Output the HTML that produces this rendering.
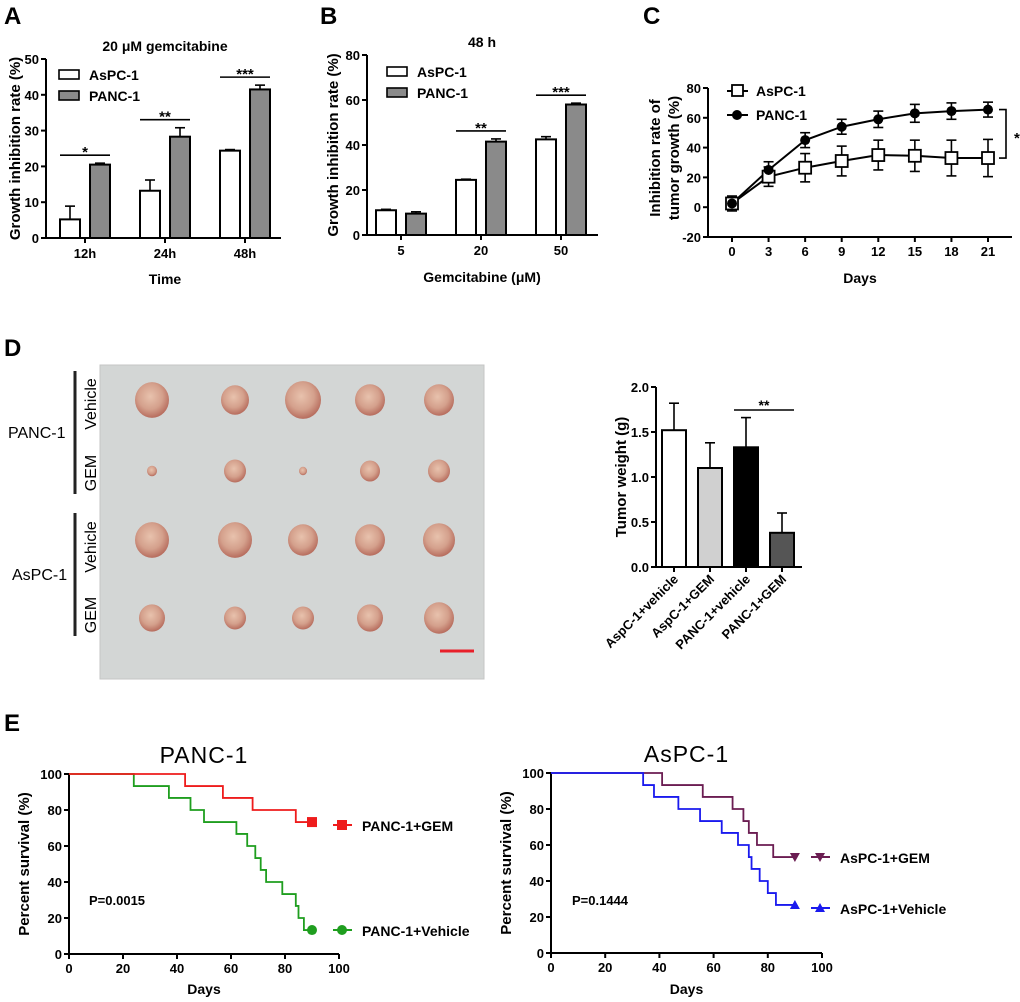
<!DOCTYPE html>
<html><head><meta charset="utf-8"><style>
html,body{margin:0;padding:0;background:#fff;}
svg{display:block;font-family:"Liberation Sans",Arial,sans-serif;}
</style></head><body>
<svg id="fig" width="1020" height="1002" viewBox="0 0 1020 1002">
<defs>
<radialGradient id="tum" cx="45%" cy="40%" r="60%">
<stop offset="0%" stop-color="#e8c2ad"/><stop offset="60%" stop-color="#d4a08c"/><stop offset="100%" stop-color="#b76d5e"/>
</radialGradient>
</defs>
</svg>
<script>
// Panel A data
const aCats = ['12h','24h','48h'];
const aAsPC = [5.2, 13.2, 24.4];
const aAsPCErr = [3.7, 3.0, 0.3];
const aPANC = [20.5, 28.3, 41.5];
const aPANCErr = [0.4, 2.5, 1.2];
const aTicks = [0,10,20,30,40,50];
const aSig = ['*','**','***'];
// Panel B data
const bCats = ['5','20','50'];
const bAsPC = [11, 24.5, 42.5];
const bAsPCErr = [0.4, 0.3, 1.2];
const bPANC = [9.5, 41.5, 58];
const bPANCErr = [0.8, 1.2, 0.6];
const bTicks = [0,20,40,60,80];
const bSig = ['','**','***'];
// Panel C data
const cDays = [0,3,6,9,12,15,18,21];
const cAsPC = [2.5, 20.5, 26.5, 31, 35, 34.5, 33, 33];
const cAsPCErr = [5, 6.5, 9.5, 10, 10, 10.5, 12, 12.5];
const cPANC = [2.5, 25, 45, 54, 59, 63, 64.5, 65.5];
const cPANCErr = [3, 5.5, 5, 5, 5.5, 6, 5.5, 5];
const cTicks = [-20,0,20,40,60,80];
// Panel D data
const dCats = ['AspC-1+vehicle','AspC-1+GEM','PANC-1+vehicle','PANC-1+GEM'];
const dVals = [1.52, 1.10, 1.33, 0.38];
const dErr = [0.30, 0.28, 0.33, 0.22];
const dTicks = [0.0,0.5,1.0,1.5,2.0];
// Panel E data (Kaplan-Meier steps: times and survival after each time)
const ePancGemT = [0,43,57,68,84,90];
const ePancGemS = [100,93.3,86.7,80,73.3,73.3];
const ePancVehT = [0,24,37,45,50,62,66,69,71,73,79,84,85,87,90];
const ePancVehS = [100,93.3,86.7,80,73.3,66.7,60,53.3,46.7,40,33.3,26.7,20,13.3,13.3];
const eAsGemT = [0,41,56,67,71,73,76,82,90];
const eAsGemS = [100,93.3,86.7,80,73.3,66.7,60,53.3,53.3];
const eAsVehT = [0,34,38,47,55,63,69,73,74,77,80,83,90];
const eAsVehS = [100,93.3,86.7,80,73.3,66.7,60,53.3,46.7,40,33.3,26.7,26.7];
const eTicks = [0,20,40,60,80,100];

const NS='http://www.w3.org/2000/svg';
const svg=document.getElementById('fig');
function mk(tag, attrs, parent, txt){
  const e=document.createElementNS(NS,tag);
  for(const k in attrs) e.setAttribute(k,attrs[k]);
  if(txt!==undefined) e.textContent=txt;
  (parent||svg).appendChild(e);
  return e;
}
function lin(d0,d1,r0,r1){return v=>r0+(v-d0)*(r1-r0)/(d1-d0);}
let el;

// panel letters
[['A',4,24],['B',320,24],['C',643,24],['D',4,356],['E',4,731]].forEach(p=>{
  el=mk('text',{x:p[1],y:p[2],'font-size':24,'font-weight':'bold'},svg,p[0]);
  
  
});

function yAxis(x, y0, y1, ticks, ys, fmt, name){
  el=mk('line',{x1:x,y1:ys(ticks[0]),x2:x,y2:ys(ticks[ticks.length-1]),stroke:'#000','stroke-width':2});
  
  
  ticks.forEach(t=>{
    mk('line',{x1:x-5,y1:ys(t),x2:x,y2:ys(t),stroke:'#000','stroke-width':2});
    el=mk('text',{x:x-7,y:ys(t)+5,'font-size':13,'font-weight':'bold','text-anchor':'end'},svg,fmt?fmt(t):t);
    
    
  });
}
function errBar(x,ytop,ybase,w){
  mk('line',{x1:x,y1:ybase,x2:x,y2:ytop,stroke:'#000','stroke-width':1.6});
  mk('line',{x1:x-w,y1:ytop,x2:x+w,y2:ytop,stroke:'#000','stroke-width':1.6});
}

// grouped bar charts A and B
function grouped(cfg){
  const ys=lin(cfg.tk[0],cfg.tk[cfg.tk.length-1],cfg.y0,cfg.y1);
  yAxis(cfg.ax,cfg.y0,cfg.y1,cfg.tk,ys,null,cfg.name);
  el=mk('line',{x1:cfg.ax,y1:cfg.y0,x2:cfg.axEnd,y2:cfg.y0,stroke:'#000','stroke-width':2});
  
  
  cfg.cats.forEach((c,i)=>{
    const cx=cfg.gx[i];
    mk('line',{x1:cx,y1:cfg.y0,x2:cx,y2:cfg.y0+5,stroke:'#000','stroke-width':2});
    el=mk('text',{x:cx,y:cfg.y0+20,'font-size':13,'font-weight':'bold','text-anchor':'middle'},svg,c);
    
    
    const a=cfg.v1[i], b=cfg.v2[i];
    errBar(cx-15,ys(a+cfg.e1[i]),ys(a),5);
    errBar(cx+15,ys(b+cfg.e2[i]),ys(b),5);
    el=mk('rect',{x:cx-25,y:ys(a),width:20,height:cfg.y0-ys(a),fill:'#fff',stroke:'#000','stroke-width':2});
    
    
    el=mk('rect',{x:cx+5,y:ys(b),width:20,height:cfg.y0-ys(b),fill:'#8a8a8a',stroke:'#000','stroke-width':2});
    
    
    if(cfg.sig[i]){
      const top=Math.max(a+cfg.e1[i],b+cfg.e2[i]);
      const ly=ys(top)-8;
      mk('line',{x1:cx-25,y1:ly,x2:cx+25,y2:ly,stroke:'#000','stroke-width':1.6});
      el=mk('text',{x:cx,y:ly+2,'font-size':15,'font-weight':'bold','text-anchor':'middle'},svg,cfg.sig[i]);
      
      
    }
  });
  // legend
  el=mk('rect',{x:cfg.lgx,y:cfg.legY,width:20,height:9,fill:'#fff',stroke:'#000','stroke-width':1.6});
  
  
  el=mk('text',{x:cfg.lgx+30,y:cfg.legY+10,'font-size':14,'font-weight':'bold'},svg,'AsPC-1');
  
  
  el=mk('rect',{x:cfg.lgx,y:cfg.legY+21,width:20,height:9,fill:'#8a8a8a',stroke:'#000','stroke-width':1.6});
  
  
  el=mk('text',{x:cfg.lgx+30,y:cfg.legY+31,'font-size':14,'font-weight':'bold'},svg,'PANC-1');
  
  
  el=mk('text',{x:cfg.tx,y:cfg.ty,'font-size':14,'font-weight':'bold','text-anchor':'middle'},svg,cfg.title);
  
  
  el=mk('text',{x:cfg.tx,y:cfg.xly,'font-size':14,'font-weight':'bold','text-anchor':'middle'},svg,cfg.xl);
  
  
  el=mk('text',{transform:`translate(${cfg.ylx},${(cfg.y0+cfg.y1)/2}) rotate(-90)`,'font-size':15,'font-weight':'bold','text-anchor':'middle'},svg,'Growth inhibition rate (%)');
  
  
}
grouped({name:'panel-a',cats:aCats,v1:aAsPC,e1:aAsPCErr,v2:aPANC,e2:aPANCErr,tk:aTicks,sig:aSig,
  ax:46,axEnd:281,y0:238,y1:59,gx:[85,165,245],lgx:59,legY:70,title:'20 \u03bcM gemcitabine',tx:165,ty:51,xl:'Time',xly:284,ylx:20});
grouped({name:'panel-b',cats:bCats,v1:bAsPC,e1:bAsPCErr,v2:bPANC,e2:bPANCErr,tk:bTicks,sig:bSig,
  ax:367,axEnd:598,y0:235,y1:55,gx:[401,481,561],lgx:387,legY:67,title:'48 h',tx:482,ty:47,xl:'Gemcitabine (\u03bcM)',xly:282,ylx:338});

// Panel C
(function(){
  const ys=lin(-20,80,237,88), xs=lin(0,21,732,988);
  yAxis(708,237,88,cTicks,ys,null,'panel-c');
  el=mk('line',{x1:708,y1:237,x2:1012,y2:237,stroke:'#000','stroke-width':2});
  
  
  cDays.forEach(d=>{
    mk('line',{x1:xs(d),y1:237,x2:xs(d),y2:242,stroke:'#000','stroke-width':2});
    el=mk('text',{x:xs(d),y:256,'font-size':13,'font-weight':'bold','text-anchor':'middle'},svg,d);
    
    
  });
  [[cAsPC,cAsPCErr,'aspc1'],[cPANC,cPANCErr,'panc1']].forEach(s=>{
    s[0].forEach((v,i)=>{
      errBar(xs(cDays[i]),ys(v+s[1][i]),ys(v-s[1][i]),5);
      mk('line',{x1:xs(cDays[i])-5,y1:ys(v-s[1][i]),x2:xs(cDays[i])+5,y2:ys(v-s[1][i]),stroke:'#000','stroke-width':1.6});
    });
    el=mk('polyline',{points:s[0].map((v,i)=>xs(cDays[i])+','+ys(v)).join(' '),fill:'none',stroke:'#000','stroke-width':2});
    
    
  });
  cAsPC.forEach((v,i)=>{
    el=mk('rect',{x:xs(cDays[i])-6,y:ys(v)-6,width:12,height:12,fill:'#fff',stroke:'#000','stroke-width':1.8});
    
    
  });
  cPANC.forEach((v,i)=>{
    el=mk('circle',{cx:xs(cDays[i]),cy:ys(v),r:5,fill:'#000'});
    
    
  });
  const bx=xs(21)+18;
  el=mk('polyline',{points:`${bx-7},${ys(cPANC[7])} ${bx},${ys(cPANC[7])} ${bx},${ys(cAsPC[7])} ${bx-7},${ys(cAsPC[7])}`,fill:'none',stroke:'#000','stroke-width':1.6});
  
  
  el=mk('text',{x:bx+8,y:(ys(cPANC[7])+ys(cAsPC[7]))/2+9,'font-size':15,'font-weight':'bold'},svg,'*');
  
  
  mk('line',{x1:727,y1:91,x2:748,y2:91,stroke:'#000','stroke-width':2});
  el=mk('rect',{x:732,y:85,width:11,height:11,fill:'#fff',stroke:'#000','stroke-width':1.8});
  
  
  el=mk('text',{x:756,y:96,'font-size':14,'font-weight':'bold'},svg,'AsPC-1');
  
  
  mk('line',{x1:727,y1:115,x2:748,y2:115,stroke:'#000','stroke-width':2});
  el=mk('circle',{cx:737,cy:115,r:5,fill:'#000'});
  
  
  el=mk('text',{x:756,y:120,'font-size':14,'font-weight':'bold'},svg,'PANC-1');
  
  
  el=mk('text',{transform:'translate(660,158) rotate(-90)','font-size':15,'font-weight':'bold','text-anchor':'middle'},svg,'Inhibition rate of');
  
  
  el=mk('text',{transform:'translate(679,158) rotate(-90)','font-size':15,'font-weight':'bold','text-anchor':'middle'},svg,'tumor growth (%)');
  
  
  el=mk('text',{x:860,y:283,'font-size':14,'font-weight':'bold','text-anchor':'middle'},svg,'Days');
  
  
})();

// Panel D photo
(function(){
  el=mk('rect',{x:100,y:365,width:384,height:314,fill:'#d3d6d5',stroke:'#c4c6c5'});
  
  
  const rows=[400,471,540,618], cols=[152,235,303,370,439];
  const sizes=[[17,14,18,15,15],[5,11,4,10,11],[17,17,15,15,16],[13,11,11,13,15]];
  rows.forEach((ry,r)=>cols.forEach((cx,c)=>{
    const s=sizes[r][c];
    el=mk('ellipse',{cx:cx,cy:ry,rx:s,ry:s*1.05,fill:'url(#tum)'});
    
    
  }));
  el=mk('line',{x1:440,y1:651,x2:474,y2:651,stroke:'#e8202a','stroke-width':3});
  
  
  [[371,494],[513,636]].forEach(b=>mk('line',{x1:75,y1:b[0],x2:75,y2:b[1],stroke:'#222','stroke-width':3}));
  [['PANC-1',8,438],['AsPC-1',12,580]].forEach(t=>{
    el=mk('text',{x:t[1],y:t[2],'font-size':16},svg,t[0]);
    
    
  });
  [['Vehicle',404],['GEM',473],['Vehicle',547],['GEM',615]].forEach(t=>{
    el=mk('text',{transform:`translate(96,${t[1]}) rotate(-90)`,'font-size':16,'text-anchor':'middle'},svg,t[0]);
    
    
  });
})();

// Panel D bar chart
(function(){
  const ys=lin(0,2,567,387);
  yAxis(656,567,387,dTicks,ys,t=>t.toFixed(1),'panel-d');
  el=mk('line',{x1:656,y1:567,x2:802,y2:567,stroke:'#000','stroke-width':2});
  
  
  const fills=['#fff','#d0d0d0','#000','#555'];
  const gx=[674,710,746,782];
  dCats.forEach((c,i)=>{
    errBar(gx[i],ys(dVals[i]+dErr[i]),ys(dVals[i]),5);
    el=mk('rect',{x:gx[i]-12,y:ys(dVals[i]),width:24,height:567-ys(dVals[i]),fill:fills[i],stroke:'#000','stroke-width':2});
    
    
    mk('line',{x1:gx[i],y1:567,x2:gx[i],y2:572,stroke:'#000','stroke-width':2});
    el=mk('text',{transform:`translate(${gx[i]+5},${580}) rotate(-45)`,'font-size':13,'font-weight':'bold','text-anchor':'end'},svg,c);
    
    
  });
  mk('line',{x1:734,y1:410,x2:794,y2:410,stroke:'#000','stroke-width':1.6});
  el=mk('text',{x:764,y:410,'font-size':14,'font-weight':'bold','text-anchor':'middle'},svg,'**');
  
  
  el=mk('text',{transform:'translate(626,477) rotate(-90)','font-size':15,'font-weight':'bold','text-anchor':'middle'},svg,'Tumor weight (g)');
  
  
})();

// Panel E
function km(cfg){
  const xs=lin(0,100,cfg.ax,cfg.ax1), ys=lin(0,100,cfg.y0,cfg.y1);
  yAxis(cfg.ax,cfg.y0,cfg.y1,eTicks,ys,null,cfg.name);
  el=mk('line',{x1:cfg.ax,y1:cfg.y0,x2:cfg.ax1,y2:cfg.y0,stroke:'#000','stroke-width':2});
  
  
  eTicks.forEach(t=>{
    mk('line',{x1:xs(t),y1:cfg.y0,x2:xs(t),y2:cfg.y0+5,stroke:'#000','stroke-width':2});
    el=mk('text',{x:xs(t),y:cfg.y0+19,'font-size':13,'font-weight':'bold','text-anchor':'middle'},svg,t);
    
    
  });
  cfg.series.forEach(s=>{
    let pts=[];
    for(let i=0;i<s.t.length;i++){
      if(i>0) pts.push(xs(s.t[i])+','+ys(s.s[i-1]));
      pts.push(xs(s.t[i])+','+ys(s.s[i]));
    }
    el=mk('polyline',{points:pts.join(' '),fill:'none',stroke:s.c,'stroke-width':1.8});
    
    
    const ex=xs(s.t[s.t.length-1]), ey=ys(s.s[s.s.length-1]);
    const mark=(x,y,nm)=>{
      if(s.m==='sq') el=mk('rect',{x:x-5,y:y-5,width:10,height:10,fill:s.c});
      else if(s.m==='ci') el=mk('circle',{cx:x,cy:y,r:5,fill:s.c});
      else if(s.m==='dn') el=mk('polygon',{points:`${x-5},${y-4} ${x+5},${y-4} ${x},${y+5}`,fill:s.c});
      else el=mk('polygon',{points:`${x-5},${y+4} ${x+5},${y+4} ${x},${y-5}`,fill:s.c});
      
      
    };
    mark(ex,ey,cfg.name+'-end-marker-'+s.key);
    mk('line',{x1:cfg.lx,y1:s.ly,x2:cfg.lx+19,y2:s.ly,stroke:s.c,'stroke-width':2});
    mark(cfg.lx+9,s.ly,cfg.name+'-legend-marker-'+s.key);
    el=mk('text',{x:cfg.lx+29,y:s.ly+6,'font-size':14,'font-weight':'bold'},svg,s.label);
    
    
  });
  el=mk('text',{x:(cfg.ax+cfg.ax1)/2,y:cfg.y1-11,'font-size':23,'text-anchor':'middle','letter-spacing':'1'},svg,cfg.title);
  
  
  el=mk('text',{x:cfg.px,y:905,'font-size':13,'font-weight':'bold'},svg,cfg.p);
  
  
  el=mk('text',{x:(cfg.ax+cfg.ax1)/2,y:994,'font-size':14,'font-weight':'bold','text-anchor':'middle'},svg,'Days');
  
  
  el=mk('text',{transform:`translate(${cfg.ax-40},${(cfg.y0+cfg.y1)/2}) rotate(-90)`,'font-size':15,'font-weight':'bold','text-anchor':'middle'},svg,'Percent survival (%)');
  
  
}
km({name:'panel-e-panc1',ax:69,ax1:339,y0:954,y1:774,lx:333,px:89,p:'P=0.0015',title:'PANC-1',
  series:[{key:'vehicle',t:ePancVehT,s:ePancVehS,c:'#1f9e1f',m:'ci',ly:930,label:'PANC-1+Vehicle'},
          {key:'gem',t:ePancGemT,s:ePancGemS,c:'#ee1c1c',m:'sq',ly:825,label:'PANC-1+GEM'}]});
km({name:'panel-e-aspc1',ax:551,ax1:822,y0:953,y1:773,lx:811,px:572,p:'P=0.1444',title:'AsPC-1',
  series:[{key:'gem',t:eAsGemT,s:eAsGemS,c:'#6b1d52',m:'dn',ly:857,label:'AsPC-1+GEM'},
          {key:'vehicle',t:eAsVehT,s:eAsVehS,c:'#1a1aee',m:'up',ly:908,label:'AsPC-1+Vehicle'}]});
</script>
</body></html>
